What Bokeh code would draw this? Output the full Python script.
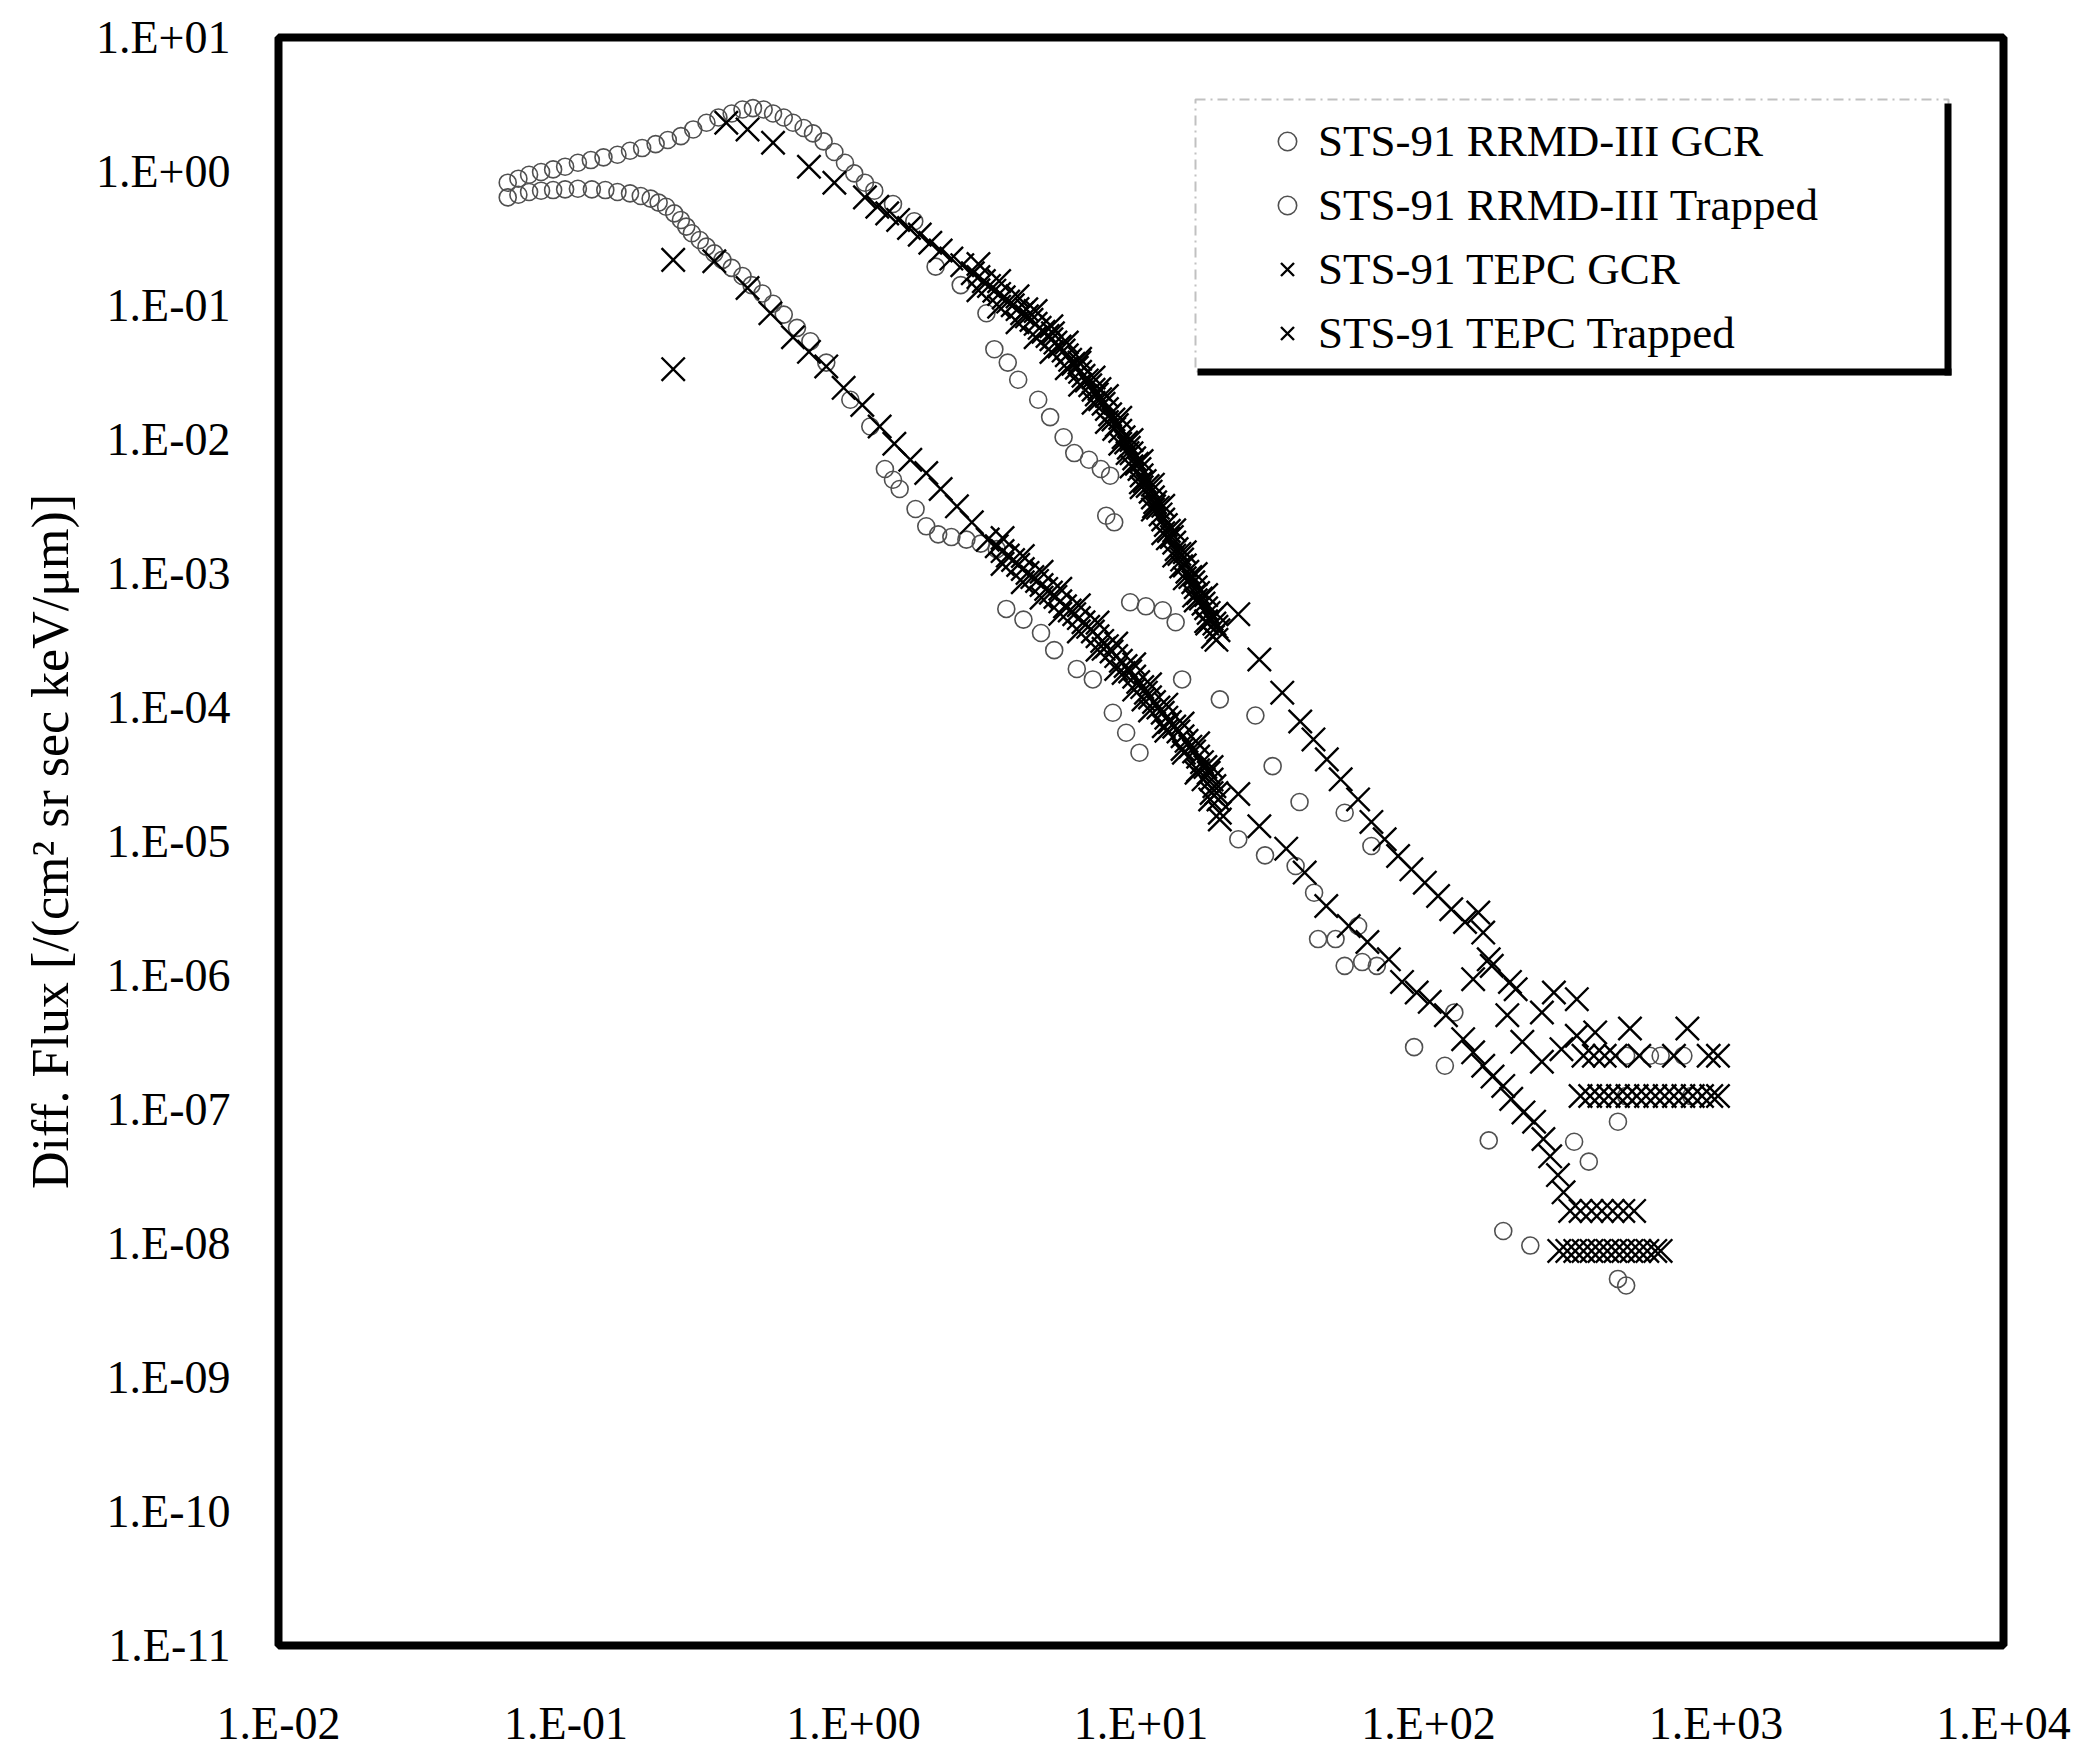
from bokeh.plotting import figure
from bokeh.models import (Range1d, FixedTicker, CustomJSTickFormatter, Legend, LegendItem,
                          BoxAnnotation)
from bokeh.embed import file_html
from bokeh.resources import INLINE

FONT = "Liberation Serif"

# ---------------- axis ticks ----------------
x_tick_values = [1e-2, 1e-1, 1e0, 1e1, 1e2, 1e3, 1e4]
x_tick_labels = ["1.E-02", "1.E-01", "1.E+00", "1.E+01", "1.E+02", "1.E+03", "1.E+04"]
y_tick_values = [1e1, 1e0, 1e-1, 1e-2, 1e-3, 1e-4, 1e-5, 1e-6, 1e-7, 1e-8, 1e-9, 1e-10, 1e-11]
y_tick_labels = ["1.E+01", "1.E+00", "1.E-01", "1.E-02", "1.E-03", "1.E-04", "1.E-05",
                 "1.E-06", "1.E-07", "1.E-08", "1.E-09", "1.E-10", "1.E-11"]

series_names = ["STS-91 RRMD-III GCR", "STS-91 RRMD-III Trapped",
                "STS-91 TEPC GCR", "STS-91 TEPC Trapped"]
y_title = "Diff. Flux [/(cm\u00b2 sr sec keV/\u03bcm)]"

# ---------------- data (LET keV/um, flux) ----------------
rrmd_gcr_let = [0.0627, 0.0683, 0.0744, 0.0819, 0.0902, 0.0993, 0.110, 0.123, 0.137, 0.151, 0.167,
                0.182, 0.197, 0.210, 0.223, 0.238, 0.251, 0.262, 0.274, 0.292, 0.308, 0.328, 0.350,
                0.377, 0.411, 0.442, 0.482, 0.525, 0.572, 0.636, 0.708, 0.804, 0.975, 1.144, 1.286,
                1.372, 1.447, 1.644, 1.791, 1.97, 2.19, 2.47, 2.77, 3.15, 3.40, 3.90, 4.49, 4.99,
                5.98, 6.80, 7.98, 8.88, 9.88, 21.8, 27.0, 34.5, 40.0, 41.3, 47.5, 51.1, 56.9, 58.8,
                66.1, 89.1, 114, 123, 162, 321, 361, 456, 182, 226, 487, 456]
rrmd_gcr_flux = [0.641, 0.671, 0.703, 0.719, 0.727, 0.736, 0.744, 0.736, 0.727, 0.703, 0.687,
                 0.656, 0.627, 0.586, 0.546, 0.487, 0.435, 0.388, 0.346, 0.308, 0.275, 0.245, 0.219,
                 0.191, 0.166, 0.142, 0.123, 0.103, 0.0855, 0.0681, 0.0541, 0.0375, 0.0198, 0.0125,
                 0.00602, 0.00501, 0.00427, 0.00303, 0.00225, 0.00196, 0.00187, 0.00179, 0.00167,
                 0.00152, 5.44e-4, 4.53e-4, 3.60e-4, 2.68e-4, 1.94e-4, 1.62e-4, 9.13e-5, 6.48e-5,
                 4.60e-5, 1.04e-5, 7.88e-6, 6.56e-6, 4.15e-6, 1.87e-6, 1.87e-6, 1.18e-6, 2.34e-6,
                 1.26e-6, 1.18e-6, 2.92e-7, 2.12e-7, 5.30e-7, 5.88e-8, 5.75e-8, 4.08e-8, 8.11e-8,
                 1.24e-8, 9.65e-9, 4.86e-9, 5.44e-9]

rrmd_trapped_let = [0.0627, 0.0683, 0.0744, 0.0819, 0.0902, 0.0993, 0.110, 0.122, 0.135, 0.151,
                    0.167, 0.184, 0.205, 0.226, 0.251, 0.277, 0.308, 0.339, 0.377, 0.411, 0.447,
                    0.487, 0.525, 0.572, 0.616, 0.671, 0.723, 0.787, 0.858, 0.934, 1.006, 1.096,
                    1.181, 1.372, 1.627, 1.93, 2.36, 2.90, 3.09, 3.44, 3.74, 4.39, 4.83, 5.38, 5.86,
                    6.59, 7.25, 7.81, 7.57, 8.07, 9.17, 10.4, 11.9, 13.2, 13.9, 18.8, 25.0, 28.7,
                    35.6, 51.1, 63.3, 487, 589, 642, 770, 821, 487]
rrmd_trapped_flux = [0.825, 0.884, 0.946, 0.991, 1.037, 1.086, 1.163, 1.217, 1.275, 1.334,
                     1.429, 1.496, 1.602, 1.717, 1.838, 2.06, 2.31, 2.53, 2.71, 2.90, 2.97,
                     2.90, 2.71, 2.53, 2.31, 2.11, 1.924, 1.677, 1.397, 1.163, 0.968, 0.825,
                     0.719, 0.572, 0.425, 0.195, 0.142, 0.0876, 0.0472, 0.0375, 0.0279, 0.0198,
                     0.0147, 0.0104, 0.00792, 0.00706, 0.00602, 0.00537, 0.00270, 0.00241,
                     6.10e-4, 5.69e-4, 5.32e-4, 4.33e-4, 1.62e-4, 1.15e-4, 8.72e-5, 3.65e-5,
                     1.97e-5, 1.64e-5, 9.26e-6, 2.52e-7, 2.52e-7, 2.52e-7, 2.52e-7, 1.26e-7, 1.26e-7]

tepc_gcr_let = [0.236, 0.236, 0.328, 0.428, 0.514, 0.616, 0.700, 0.804, 0.924, 1.073, 1.233, 1.387,
                1.576, 1.791, 2.01, 2.29, 2.58, 2.93, 3.15, 3.44, 3.74, 4.03, 4.35, 4.68, 5.04, 5.44,
                5.86, 6.31, 6.80, 7.33, 7.90, 8.51, 9.17, 9.78, 10.4, 11.1, 11.9, 12.6, 13.5, 14.4,
                15.3, 16.3, 17.2, 18.0, 18.6, 18.8, 18.8,
                10.2, 12.0, 14.1, 16.5, 17.4, 15.6, 8.70, 7.41,
                3.30, 3.88, 4.51, 5.24, 6.08, 7.06, 8.20, 9.47, 10.75, 12.25, 13.95, 15.8, 17.6,
                3.30, 3.88, 4.51, 5.24, 6.08, 7.06, 8.20, 9.47, 10.75, 12.25, 13.95, 15.8, 17.6,
                3.30, 3.59, 3.88, 4.19, 4.51, 4.86, 5.24, 5.65, 6.08, 6.55, 7.06, 7.61, 8.20, 8.84,
                9.47, 10.1, 10.75, 11.5, 12.25, 13.05, 13.95, 14.85, 15.8, 16.75, 17.6, 18.3,
                21.8, 25.8, 32.0, 37.1, 44.1, 52.8, 61.3, 72.8, 80.9, 91.0, 101, 115, 132, 143,
                155, 167, 182, 194, 214, 233, 251, 265, 282, 295,
                311, 338, 369, 401, 437, 476, 519,
                285, 304, 324, 346, 369, 393, 419, 447, 476, 508, 541, 577, 615, 642]
tepc_gcr_flux = [0.219, 0.0335, 0.214, 0.135, 0.0876, 0.058, 0.0451, 0.0351, 0.0243, 0.0181,
                 0.0125, 0.00930, 0.00706, 0.00562, 0.00427, 0.00317, 0.00241, 0.00179, 0.00160,
                 0.00136, 0.00116, 0.00101, 8.80e-4, 7.67e-4, 6.69e-4, 5.69e-4, 4.97e-4, 4.33e-4,
                 3.69e-4, 3.14e-4, 2.62e-4, 2.23e-4, 1.86e-4, 1.55e-4, 1.29e-4, 1.10e-4, 9.13e-5,
                 7.78e-5, 6.63e-5, 5.64e-5, 4.70e-5, 3.91e-5, 3.26e-5, 2.59e-5, 2.06e-5, 1.64e-5,
                 1.46e-5,
                 1.15e-4, 7.26e-5, 4.60e-5, 2.91e-5, 2.06e-5, 3.26e-5, 1.81e-4, 2.74e-4,
                 1.84e-3, 1.35e-3, 1.03e-3, 7.7e-4, 5.8e-4, 4.3e-4, 3.0e-4, 2.1e-4, 1.49e-4,
                 1.05e-4, 7.6e-5, 5.4e-5, 3.6e-5,
                 1.18e-3, 8.6e-4, 6.6e-4, 5.0e-4, 3.7e-4, 2.7e-4, 1.94e-4, 1.36e-4, 9.5e-5,
                 6.7e-5, 4.9e-5, 3.4e-5, 2.3e-5,
                 1.47e-3, 1.26e-3, 1.08e-3, 9.4e-4, 8.2e-4, 7.2e-4, 6.2e-4, 5.3e-4, 4.65e-4, 4.0e-4,
                 3.4e-4, 2.87e-4, 2.42e-4, 2.04e-4, 1.7e-4, 1.42e-4, 1.19e-4, 1.0e-4, 8.4e-5,
                 7.2e-5, 6.1e-5, 5.1e-5, 4.3e-5, 3.6e-5, 2.9e-5, 2.3e-5,
                 2.26e-5, 1.30e-5, 8.84e-6, 5.86e-6, 3.30e-6, 2.34e-6, 1.78e-6, 1.32e-6, 8.96e-7,
                 7.46e-7, 6.36e-7, 5.06e-7, 3.35e-7, 2.67e-7, 2.12e-7, 1.76e-7, 1.50e-7, 1.20e-7,
                 9.51e-8, 8.11e-8, 6.02e-8, 4.47e-8, 3.24e-8, 2.41e-8,
                 1.75e-8, 1.75e-8, 1.75e-8, 1.75e-8, 1.75e-8, 1.75e-8, 1.75e-8,
                 8.8e-9, 8.8e-9, 8.8e-9, 8.8e-9, 8.8e-9, 8.8e-9, 8.8e-9, 8.8e-9, 8.8e-9, 8.8e-9,
                 8.8e-9, 8.8e-9, 8.8e-9, 8.8e-9]

tepc_trapped_let = [0.361, 0.428, 0.525, 0.700, 0.858, 1.096,
                    1.21, 1.31, 1.43, 1.56, 1.70, 1.85, 2.01, 2.19, 2.39, 2.60, 2.84, 3.09, 3.33,
                    3.58, 3.86, 4.16, 4.44, 4.73, 5.04, 5.38, 5.67, 5.98, 6.31, 6.66, 7.02, 7.41,
                    7.81, 8.24, 8.70, 9.07, 9.47, 9.88, 10.3, 10.8, 11.2, 11.7, 12.2, 12.8, 13.3,
                    13.9, 14.5, 15.2, 15.8, 16.5, 17.2, 18.0, 18.6,
                    8.07, 8.98, 9.99, 11.1, 12.4, 13.8, 15.3, 17.0, 17.8,
                    3.99, 4.94, 6.11, 7.17,
                    2.72, 3.21, 3.72, 4.30, 4.88, 5.52, 6.14, 6.84, 7.61, 8.47, 9.27, 10.05, 11.0,
                    11.95, 13.05, 14.2, 15.5, 16.85, 18.3,
                    2.72, 3.21, 3.72, 4.30, 4.88, 5.52, 6.14, 6.84, 7.61, 8.47, 9.27, 10.05, 11.0,
                    11.95, 13.05, 14.2, 15.5, 16.85, 18.3,
                    2.72, 2.96, 3.21, 3.45, 3.72, 4.01, 4.30, 4.58, 4.88, 5.21, 5.52, 5.82, 6.14,
                    6.48, 6.84, 7.21, 7.61, 8.02, 8.47, 8.88, 9.27, 9.67, 10.05, 10.55, 11.0, 11.45,
                    11.95, 12.5, 13.05, 13.6, 14.2, 14.85, 15.5, 16.15, 16.85, 17.6, 18.3,
                    21.8, 25.8, 31.0, 35.8, 39.8, 44.3, 49.5, 56.9, 63.3, 70.4, 78.4, 87.2, 97.1,
                    108, 120, 134, 149, 155, 166, 162, 192, 143, 201, 188, 248, 273, 328, 212, 290,
                    248, 328, 380, 502, 795,
                    346, 376, 410, 447, 541, 714, 943, 1016,
                    338, 365, 393, 423, 456, 492, 530, 571, 615, 663, 714, 770, 830, 894, 963, 1016]
tepc_trapped_flux = [2.31, 2.06, 1.64, 1.086, 0.825, 0.641,
                     0.546, 0.487, 0.435, 0.379, 0.338, 0.294, 0.257, 0.224, 0.200, 0.174, 0.152,
                     0.129, 0.115, 0.1005, 0.0876, 0.0781, 0.0681, 0.0593, 0.0529, 0.0461, 0.0393,
                     0.0343, 0.0299, 0.0254, 0.0217, 0.0185, 0.0154, 0.0128, 0.0104, 0.00868,
                     0.00723, 0.00602, 0.00490, 0.00408, 0.00340, 0.00276, 0.00230, 0.00187,
                     0.00152, 0.00127, 0.00103, 8.60e-4, 7.16e-4, 5.96e-4, 5.08e-4, 4.23e-4, 3.77e-4,
                     0.0120, 0.00792, 0.00479, 0.00317, 0.00183, 0.00113, 6.84e-4, 4.23e-4, 3.37e-4,
                     0.0938, 0.0621, 0.0375, 0.0238,
                     0.204, 0.152, 0.117, 0.091, 0.070, 0.053, 0.040, 0.029, 0.0211, 0.0145, 0.0099,
                     0.0069, 0.0046, 0.0032, 0.0021, 0.00144, 9.9e-4, 6.9e-4, 5.0e-4,
                     0.130, 0.098, 0.075, 0.058, 0.045, 0.034, 0.0256, 0.0188, 0.0135, 0.0093, 0.0063,
                     0.0044, 0.0030, 0.0020, 0.00136, 9.2e-4, 6.3e-4, 4.4e-4, 3.2e-4,
                     0.163, 0.140, 0.122, 0.107, 0.094, 0.083, 0.073, 0.0636, 0.056, 0.0494, 0.0425,
                     0.0367, 0.032, 0.0276, 0.0235, 0.020, 0.0169, 0.0141, 0.0116, 0.0095, 0.0079,
                     0.0066, 0.0054, 0.0045, 0.0037, 0.0031, 0.00253, 0.00208, 0.0017, 0.0014,
                     0.00115, 9.4e-4, 7.9e-4, 6.5e-4, 5.5e-4, 4.6e-4, 4.0e-4,
                     4.97e-4, 2.28e-4, 1.29e-4, 7.86e-5, 5.78e-5, 4.10e-5, 2.91e-5, 2.06e-5, 1.40e-5,
                     1.04e-5, 7.79e-6, 6.20e-6, 4.93e-6, 3.92e-6, 3.12e-6, 2.51e-6, 2.95e-6, 2.09e-6,
                     1.18e-6, 1.32e-6, 8.96e-7, 9.39e-7, 7.90e-7, 5.06e-7, 5.30e-7, 7.46e-7, 6.66e-7,
                     3.20e-7, 2.82e-7, 2.27e-7, 3.55e-7, 3.76e-7, 4.02e-7, 4.02e-7,
                     2.52e-7, 2.52e-7, 2.52e-7, 2.52e-7, 2.52e-7, 2.52e-7, 2.52e-7, 2.52e-7,
                     1.26e-7, 1.26e-7, 1.26e-7, 1.26e-7, 1.26e-7, 1.26e-7, 1.26e-7, 1.26e-7,
                     1.26e-7, 1.26e-7, 1.26e-7, 1.26e-7, 1.26e-7, 1.26e-7, 1.26e-7, 1.26e-7]

# ---------------- figure ----------------
p = figure(width=2091, height=1751, x_axis_type="log", y_axis_type="log",
           x_range=Range1d(1e-2, 1e4), y_range=Range1d(1e-11, 1e1),
           output_backend="svg", toolbar_location=None,
           min_border_left=278, min_border_right=88, min_border_top=37, min_border_bottom=105)
p.grid.visible = False
p.background_fill_color = "white"
p.border_fill_color = "white"
p.outline_line_color = "black"
p.outline_line_width = 8

fmt_code = """
const e = Math.round(Math.log10(tick));
const a = Math.abs(e);
return '1.E' + (e < 0 ? '-' : '+') + (a < 10 ? '0' : '') + a;
"""
for ax, tv, tl in ((p.xaxis[0], x_tick_values, x_tick_labels),
                   (p.yaxis[0], y_tick_values, y_tick_labels)):
    ax.ticker = FixedTicker(ticks=tv)
    ax.formatter = CustomJSTickFormatter(code=fmt_code)
    ax.major_label_overrides = dict(zip(tv, tl))
    ax.axis_line_color = None
    ax.major_tick_line_color = None
    ax.minor_tick_line_color = None
    ax.major_tick_out = 0
    ax.major_tick_in = 0
    ax.minor_tick_out = 0
    ax.minor_tick_in = 0
    ax.major_label_text_font = FONT
    ax.major_label_text_font_size = "46px"
    ax.major_label_text_color = "black"

p.xaxis.major_label_standoff = 52
p.yaxis.major_label_standoff = 48
p.yaxis.axis_label = y_title
p.yaxis.axis_label_text_font = FONT
p.yaxis.axis_label_text_font_size = "52px"
p.yaxis.axis_label_text_font_style = "normal"
p.yaxis.axis_label_text_color = "black"
p.yaxis.axis_label_standoff = 14

circle_style = dict(marker="circle", size=17, fill_color=None, line_color="#505050", line_width=1.6)
x_style = dict(marker="x", size=33, line_color="black", line_width=2.4)

r1 = p.scatter(x=rrmd_gcr_let, y=rrmd_gcr_flux, **circle_style)
r2 = p.scatter(x=rrmd_trapped_let, y=rrmd_trapped_flux, **circle_style)
r3 = p.scatter(x=tepc_gcr_let, y=tepc_gcr_flux, **x_style)
r4 = p.scatter(x=tepc_trapped_let, y=tepc_trapped_flux, **x_style)

# legend frame (dash-dot thin box plus heavy shadow edges), screen units relative to frame
p.add_layout(BoxAnnotation(left=917, right=1670, bottom=1274, top=1546,
                           left_units="screen", right_units="screen",
                           bottom_units="screen", top_units="screen",
                           fill_alpha=0, line_color="#333333", line_width=2,
                           line_dash="10 5 2 5"))
p.add_layout(BoxAnnotation(left=1666, right=1673, bottom=1270, top=1542,
                           left_units="screen", right_units="screen",
                           bottom_units="screen", top_units="screen",
                           fill_color="black", fill_alpha=1, line_color=None))
p.add_layout(BoxAnnotation(left=919, right=1673, bottom=1270, top=1277,
                           left_units="screen", right_units="screen",
                           bottom_units="screen", top_units="screen",
                           fill_color="black", fill_alpha=1, line_color=None))

legend = Legend(items=[LegendItem(label=n, renderers=[r]) for n, r in zip(series_names, [r1, r2, r3, r4])],
                location=(986, 1280), orientation="vertical", padding=0, margin=0, spacing=0,
                glyph_width=46, glyph_height=64, label_height=64, label_standoff=8,
                label_text_font=FONT, label_text_font_size="45px", label_text_color="black",
                background_fill_alpha=0, border_line_color=None)
p.add_layout(legend)

open("out.html", "w").write(file_html(p, INLINE))
